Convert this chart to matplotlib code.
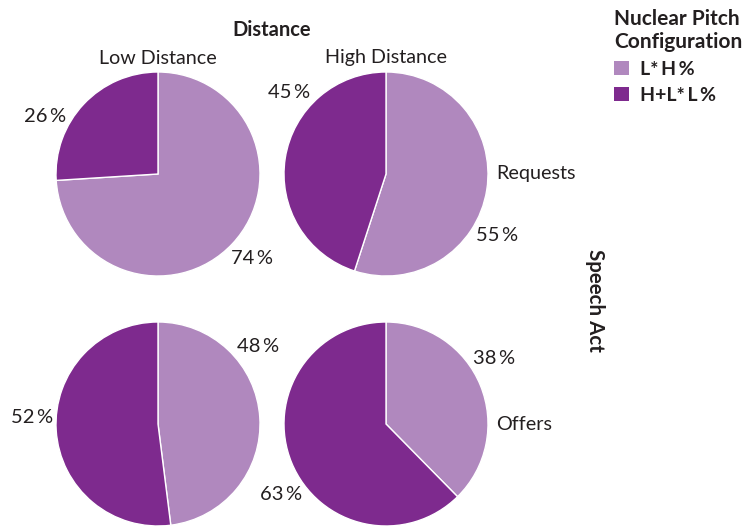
import matplotlib
matplotlib.use('Agg')
import numpy as np
from matplotlib import pyplot as plt

# data
distance_levels = ['Low Distance', 'High Distance']
speech_acts = ['Requests', 'Offers']
configs = ['L*\u2009H\u2009%', 'H+L*\u2009L\u2009%']
lh_pct = [[74, 55], [48, 38]]    # L* H%, rows = speech act, cols = distance
hll_pct = [[26, 45], [52, 63]]   # H+L* L%

# layout (pixel coordinates, y up)
W, H = 746, 526
col_x = [158, 386]
row_y = [H - 174, H - 424]
radius = 102
# label directions picked to mimic the hand placed labels in the reference
label_angles = [[(-41.7, 152.8), (-29, 139.8)],
                [(37.8, 177), (31, 213.7)]]
label_dist = 1.24

colors = ['#b088be', '#7e2a8e']
text_color = '#231f20'
fam = ['Lato', 'DejaVu Sans']

plt.rcParams['font.family'] = fam

fig = plt.figure(figsize=(W / 100, H / 100), dpi=100)
ax = fig.add_axes([0, 0, 1, 1])

wedges = None
for i, act in enumerate(speech_acts):
    for j, dist in enumerate(distance_levels):
        vals = [lh_pct[i][j], hll_pct[i][j]]
        cx, cy = col_x[j], row_y[i]
        wedges, _ = ax.pie(vals, colors=colors, startangle=90, counterclock=False,
                           center=(cx, cy), radius=radius,
                           wedgeprops=dict(edgecolor='white', linewidth=1))
        for v, ang in zip(vals, label_angles[i][j]):
            a = np.deg2rad(ang)
            ax.text(cx + label_dist * radius * np.cos(a), cy + label_dist * radius * np.sin(a),
                    f'{v}\u2009%', ha='center', va='center', fontsize=14.5, color=text_color)

# column headers
for j, dist in enumerate(distance_levels):
    ax.text(col_x[j], H - 58, dist, ha='center', va='center', fontsize=14.2, color=text_color)
ax.text(272, H - 30, 'Distance', ha='center', va='center', fontsize=14.5,
        fontweight='bold', color=text_color)

# row labels
for i, act in enumerate(speech_acts):
    ax.text(496, row_y[i], act, ha='left', va='center', fontsize=14.2, color=text_color)
ax.text(595, H - 300, 'Speech Act', ha='center', va='center', rotation=-90,
        fontsize=14.8, fontweight='bold', color=text_color)

ax.set_xlim(0, W)
ax.set_ylim(0, H)
ax.set_aspect('equal')
ax.axis('off')

leg = ax.legend(wedges, configs, title='Nuclear Pitch\nConfiguration',
                loc='upper left', bbox_to_anchor=(614 / W, 1 - 9 / H),
                frameon=False, alignment='left', borderpad=0, borderaxespad=0,
                handlelength=0.75, handleheight=0.75,
                handletextpad=0.6, labelspacing=0.45,
                prop=dict(weight='bold', size=14, family=fam),
                title_fontproperties=dict(weight='bold', size=15, family=fam))
for t in leg.get_texts():
    t.set_color(text_color)
leg.get_title().set_color(text_color)
for h in leg.legend_handles:
    h.set_edgecolor('none')

fig.savefig('out.png', dpi=100)
